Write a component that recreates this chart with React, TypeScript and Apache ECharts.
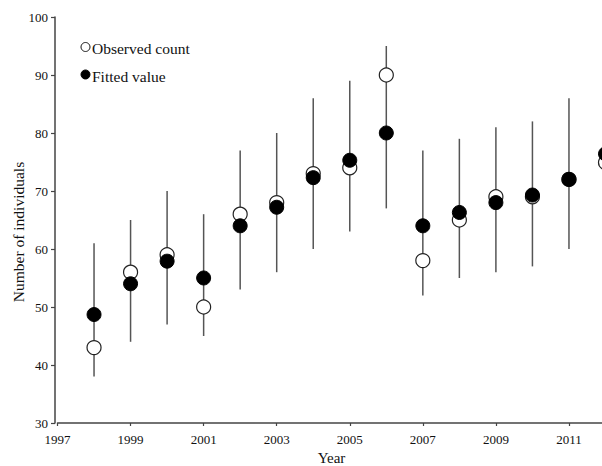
import React, { useEffect, useRef } from "react";
import * as echarts from "echarts";

const years = [1998, 1999, 2000, 2001, 2002, 2003, 2004, 2005, 2006, 2007, 2008, 2009, 2010, 2011, 2012];
const observed = [43, 56, 59, 50, 66, 68, 73, 74, 90, 58, 65, 69, 69, 72, 74.9];
const fitted = [48.7, 54, 57.9, 55, 64, 67.2, 72.3, 75.3, 80, 64, 66.3, 68, 69.3, 72, 76.4];
const lower = [38, 44, 47, 45, 53, 56, 60, 63, 67, 52, 55, 56, 57, 60, 64];
const upper = [61, 65, 70, 66, 77, 80, 86, 89, 95, 77, 79, 81, 82, 86, 88];
const xTicks = [1997, 1999, 2001, 2003, 2005, 2007, 2009, 2011];

const FONT = "'Liberation Serif', 'Times New Roman', serif";

export default function App() {
  const ref = useRef<HTMLDivElement>(null);
  useEffect(() => {
    if (!ref.current) return;
    const chart = echarts.init(ref.current, null, { renderer: "svg" });
    const axisColor = "#444";
    chart.setOption({
      animation: false,
      backgroundColor: "#fff",
      grid: { left: 57.5, width: 548, top: 17, bottom: 43, containLabel: false, outerBoundsMode: "none" },
      xAxis: {
        type: "value",
        min: 1997,
        max: 2012,
        interval: 2,
        axisLine: { show: true, lineStyle: { color: axisColor, width: 1.5 } },
        axisTick: { show: true, length: 3, lineStyle: { color: axisColor, width: 1.2 } },
        axisLabel: {
          color: "#111",
          fontFamily: FONT,
          fontSize: 13,
          margin: 10,
          formatter: (v: number) => (xTicks.includes(v) ? String(v) : ""),
          showMaxLabel: false,
        },
        splitLine: { show: false },
        name: "Year",
        nameLocation: "middle",
        nameGap: 27,
        nameTextStyle: { color: "#111", fontFamily: FONT, fontSize: 15 },
      },
      yAxis: {
        type: "value",
        min: 30,
        max: 100,
        interval: 10,
        offset: 2.5,
        axisLine: { show: true, lineStyle: { color: axisColor, width: 1.5 } },
        axisTick: { show: true, length: 4, lineStyle: { color: axisColor, width: 1.2 } },
        axisLabel: { color: "#111", fontFamily: FONT, fontSize: 13, margin: 7 },
        splitLine: { show: false },
      },
      graphic: [
        {
          type: "text",
          x: 18,
          y: 232,
          rotation: Math.PI / 2,
          style: {
            text: "Number of individuals",
            fontFamily: FONT,
            fontSize: 15.5,
            fill: "#111",
            align: "center",
            verticalAlign: "middle",
          },
        },
        {
          type: "circle",
          shape: { cx: 85.5, cy: 47, r: 4.5 },
          style: { fill: "#fff", stroke: "#111", lineWidth: 1 },
        },
        {
          type: "text",
          x: 92,
          y: 48,
          style: { text: "Observed count", fontFamily: FONT, fontSize: 15.5, fill: "#111", verticalAlign: "middle" },
        },
        {
          type: "circle",
          shape: { cx: 85.5, cy: 74.5, r: 4.5 },
          style: { fill: "#000", stroke: "#000", lineWidth: 1 },
        },
        {
          type: "text",
          x: 92,
          y: 76,
          style: { text: "Fitted value", fontFamily: FONT, fontSize: 15.5, fill: "#111", verticalAlign: "middle" },
        },
      ],
      series: [
        {
          type: "custom",
          clip: false,
          data: years.map((y, i) => [y, lower[i], upper[i]]),
          renderItem: (params: any, api: any) => {
            const x = api.value(0);
            const p1 = api.coord([x, api.value(1)]);
            const p2 = api.coord([x, api.value(2)]);
            return {
              type: "line",
              shape: { x1: p1[0], y1: p1[1], x2: p2[0], y2: p2[1] },
              style: { stroke: "#555", lineWidth: 1.5 },
            };
          },
          z: 1,
        },
        {
          type: "scatter",
          clip: false,
          symbol: "circle",
          symbolSize: 14,
          data: years.map((y, i) => [y, observed[i]]),
          itemStyle: { color: "#fff", borderColor: "#222", borderWidth: 1.2, opacity: 1 },
          z: 2,
        },
        {
          type: "scatter",
          clip: false,
          symbol: "circle",
          symbolSize: 14,
          data: years.map((y, i) => [y, fitted[i]]),
          itemStyle: { color: "#000", borderColor: "#000", borderWidth: 1, opacity: 1 },
          z: 3,
        },
      ],
    });
    return () => chart.dispose();
  }, []);
  return <div ref={ref} style={{ width: 602, height: 466, position: "absolute", left: 0, top: 0 }} />;
}
